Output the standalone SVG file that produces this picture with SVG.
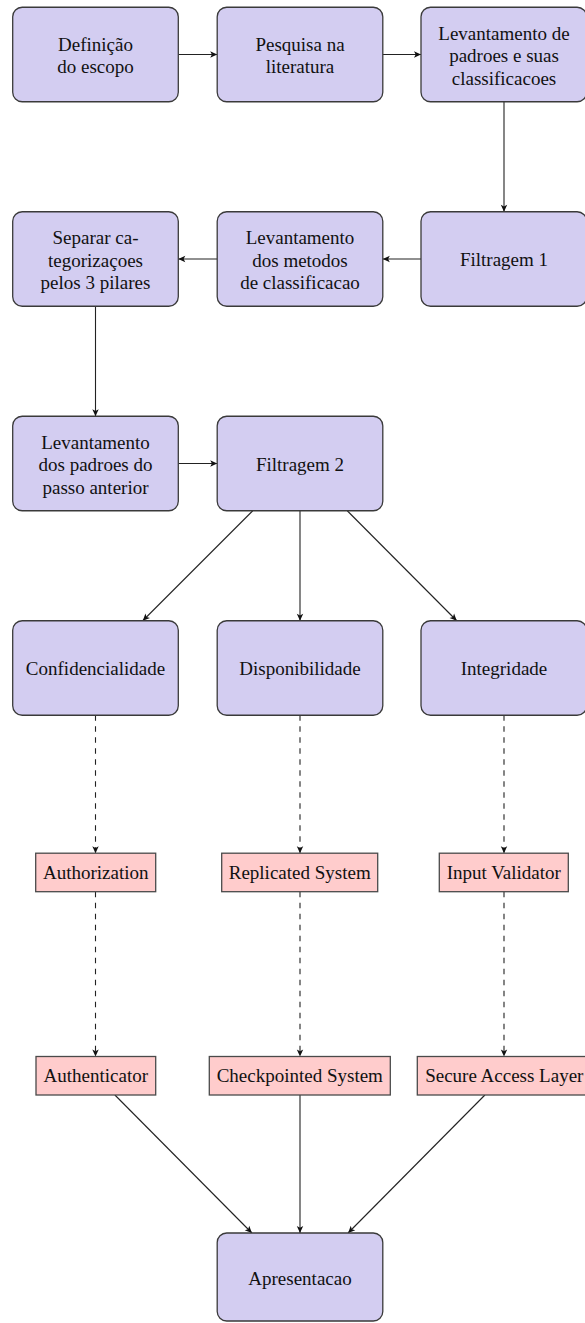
<svg xmlns="http://www.w3.org/2000/svg" width="585" height="1323" viewBox="0 0 585 1323">
  <defs>
    <style>
      .step { fill: #D3CDF1; stroke: #3a3a3a; stroke-width: 1.3; }
      .pattern { fill: #FFCCCC; stroke: #4a4a4a; stroke-width: 1.3; }
      text { font-family: "Liberation Serif", "Times New Roman", serif; font-size: 19px; fill: #111; text-anchor: middle; }
      .link { fill: none; stroke: #222; stroke-width: 1.1; marker-end: url(#tip); }
      .dash { stroke-dasharray: 5.5 5.5; }
    </style>
    <marker id="tip" markerUnits="userSpaceOnUse" markerWidth="10" markerHeight="10" viewBox="-8 -5 9 10" refX="0" refY="0" orient="auto">
      <path d="M0,0 L-7,-3.2 L-5.3,0 L-7,3.2 Z" fill="#111"/>
    </marker>
  </defs>
  <rect width="585" height="1323" fill="#ffffff"/>

  <!-- connectors -->
  <g id="connectors">
    <line class="link" x1="178.3" y1="54.5" x2="217.2" y2="54.5"/>
    <line class="link" x1="382.8" y1="54.5" x2="421" y2="54.5"/>
    <line class="link" x1="504" y1="101.75" x2="504" y2="211.75"/>
    <line class="link" x1="421" y1="259" x2="382.8" y2="259"/>
    <line class="link" x1="217.2" y1="259" x2="178.3" y2="259"/>
    <line class="link" x1="95.5" y1="306.25" x2="95.5" y2="416.25"/>
    <line class="link" x1="178.3" y1="463.5" x2="217.2" y2="463.5"/>
    <line class="link" x1="252.75" y1="510.75" x2="142.75" y2="620.75"/>
    <line class="link" x1="300" y1="510.75" x2="300" y2="620.75"/>
    <line class="link" x1="347.25" y1="510.75" x2="456.75" y2="620.75"/>
    <line class="link dash" x1="95.5" y1="715.25" x2="95.5" y2="853.2"/>
    <line class="link dash" x1="300" y1="715.25" x2="300" y2="853.2"/>
    <line class="link dash" x1="504" y1="715.25" x2="504" y2="853.2"/>
    <line class="link dash" x1="95.5" y1="891.7" x2="95.5" y2="1056.5"/>
    <line class="link dash" x1="300" y1="891.7" x2="300" y2="1056.5"/>
    <line class="link dash" x1="504" y1="891.7" x2="504" y2="1056.5"/>
    <line class="link" x1="114.9" y1="1095" x2="251.9" y2="1233"/>
    <line class="link" x1="300" y1="1095" x2="300" y2="1233"/>
    <line class="link" x1="484.9" y1="1095" x2="348.1" y2="1233"/>
  </g>

  <!-- row 1 -->
  <g id="definicao">
    <rect class="step" x="12.7" y="7.25" width="165.6" height="94.5" rx="9.5"/>
    <text x="95.5" y="50.75">Definição</text>
    <text x="95.5" y="73.25">do escopo</text>
  </g>
  <g id="pesquisa">
    <rect class="step" x="217.2" y="7.25" width="165.6" height="94.5" rx="9.5"/>
    <text x="300" y="50.75">Pesquisa na</text>
    <text x="300" y="73.25">literatura</text>
  </g>
  <g id="levantamento-padroes">
    <rect class="step" x="421" y="7.25" width="165.6" height="94.5" rx="9.5"/>
    <text x="504" y="39.5">Levantamento de</text>
    <text x="504" y="62">padroes e suas</text>
    <text x="504" y="84.5">classificacoes</text>
  </g>

  <!-- row 2 -->
  <g id="separar">
    <rect class="step" x="12.7" y="211.75" width="165.6" height="94.5" rx="9.5"/>
    <text x="95.5" y="244">Separar ca-</text>
    <text x="95.5" y="266.5">tegorizaçoes</text>
    <text x="95.5" y="289">pelos 3 pilares</text>
  </g>
  <g id="levantamento-metodos">
    <rect class="step" x="217.2" y="211.75" width="165.6" height="94.5" rx="9.5"/>
    <text x="300" y="244">Levantamento</text>
    <text x="300" y="266.5">dos metodos</text>
    <text x="300" y="289">de classificacao</text>
  </g>
  <g id="filtragem1">
    <rect class="step" x="421" y="211.75" width="165.6" height="94.5" rx="9.5"/>
    <text x="504" y="266">Filtragem 1</text>
  </g>

  <!-- row 3 -->
  <g id="levantamento-passo">
    <rect class="step" x="12.7" y="416.25" width="165.6" height="94.5" rx="9.5"/>
    <text x="95.5" y="448.5">Levantamento</text>
    <text x="95.5" y="471">dos padroes do</text>
    <text x="95.5" y="493.5">passo anterior</text>
  </g>
  <g id="filtragem2">
    <rect class="step" x="217.2" y="416.25" width="165.6" height="94.5" rx="9.5"/>
    <text x="300" y="470.5">Filtragem 2</text>
  </g>

  <!-- row 4: pillars -->
  <g id="confidencialidade">
    <rect class="step" x="12.7" y="620.75" width="165.6" height="94.5" rx="9.5"/>
    <text x="95.5" y="675">Confidencialidade</text>
  </g>
  <g id="disponibilidade">
    <rect class="step" x="217.2" y="620.75" width="165.6" height="94.5" rx="9.5"/>
    <text x="300" y="675">Disponibilidade</text>
  </g>
  <g id="integridade">
    <rect class="step" x="421" y="620.75" width="165.6" height="94.5" rx="9.5"/>
    <text x="504" y="675">Integridade</text>
  </g>

  <!-- patterns -->
  <g id="authorization">
    <rect class="pattern" x="35.7" y="853.2" width="120" height="38.5"/>
    <text x="95.7" y="879">Authorization</text>
  </g>
  <g id="replicated-system">
    <rect class="pattern" x="221.7" y="853.2" width="156" height="38.5"/>
    <text x="299.7" y="879">Replicated System</text>
  </g>
  <g id="input-validator">
    <rect class="pattern" x="439.3" y="853.2" width="129" height="38.5"/>
    <text x="503.8" y="879">Input Validator</text>
  </g>
  <g id="authenticator">
    <rect class="pattern" x="36" y="1056.5" width="119.7" height="38.5"/>
    <text x="95.85" y="1082">Authenticator</text>
  </g>
  <g id="checkpointed-system">
    <rect class="pattern" x="209.3" y="1056.5" width="181" height="38.5"/>
    <text x="299.8" y="1082">Checkpointed System</text>
  </g>
  <g id="secure-access-layer">
    <rect class="pattern" x="417.3" y="1056.5" width="174" height="38.5"/>
    <text x="504.3" y="1082">Secure Access Layer</text>
  </g>

  <!-- final step -->
  <g id="apresentacao">
    <rect class="step" x="217.2" y="1233" width="165.6" height="88" rx="9.5"/>
    <text x="300" y="1285">Apresentacao</text>
  </g>
</svg>
